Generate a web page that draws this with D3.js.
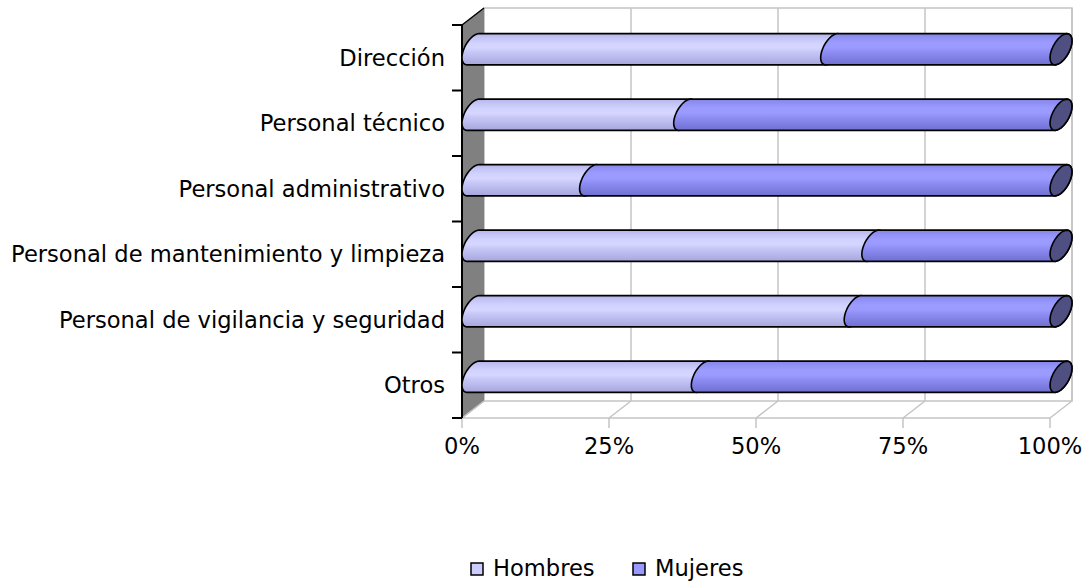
<!DOCTYPE html>
<html>
<head>
<meta charset="utf-8">
<script src="https://cdn.jsdelivr.net/npm/d3@7"></script>
<style>
  html, body { margin: 0; padding: 0; background: #fff; }
  svg { display: block; }
  text { font-family: "DejaVu Sans", Verdana, sans-serif; fill: #000; }
</style>
</head>
<body>
<script>
// Share of men and women per staff category (percent)
const categories = [
  "Dirección",
  "Personal técnico",
  "Personal administrativo",
  "Personal de mantenimiento y limpieza",
  "Personal de vigilancia y seguridad",
  "Otros"
];
const hombres = [61, 36, 20, 68, 65, 39];
const mujeres = [39, 64, 80, 32, 35, 61];
const seriesNames = ["Hombres", "Mujeres"];
const tickValues = [0, 25, 50, 75, 100];
const tickLabels = ["0%", "25%", "50%", "75%", "100%"];

const W = 1088, H = 581;
const svg = d3.select("body").append("svg").attr("width", W).attr("height", H);

// front plane of the 3D box and its depth offset
const x = d3.scaleLinear().domain([0, 100]).range([462, 1050]);
const y = d3.scaleBand().domain(categories).range([25, 418]);
const depthX = 22, depthY = 17;
const bw = y.bandwidth();
const fontSize = 22.6;

const defs = svg.append("defs");
function grad(id, stops) {
  const g = defs.append("linearGradient").attr("id", id)
    .attr("x1", 0).attr("y1", 0).attr("x2", 0).attr("y2", 1);
  stops.forEach(s => g.append("stop").attr("offset", s[0]).attr("stop-color", s[1]));
}
grad("gH", [[0, "#b4b4ea"], [0.12, "#c2c2f4"], [0.3, "#d2d2ff"], [0.45, "#d6d6ff"], [0.6, "#c6c6f6"], [0.8, "#b6b6ea"], [1, "#a6a6dc"]]);
grad("gM", [[0, "#8484e6"], [0.12, "#9090f4"], [0.3, "#9c9cff"], [0.45, "#9a9aff"], [0.6, "#8c8cf2"], [0.8, "#7e7ee2"], [1, "#7070d2"]]);
const fills = ["url(#gH)", "url(#gM)"];
const legendFills = ["#ccccff", "#9999ff"];
const capFill = "#4f4f82";
const gridColor = "#c4c4c4";

const xMin = x.range()[0], xMax = x.range()[1];
const yTop = y.range()[0], yBot = y.range()[1];

// back wall
svg.append("rect")
  .attr("x", xMin + depthX).attr("y", yTop - depthY)
  .attr("width", xMax - xMin).attr("height", yBot - yTop)
  .attr("fill", "#fff").attr("stroke", gridColor).attr("stroke-width", 1.5);

// vertical gridlines on the back wall and their floor continuation
tickValues.forEach(v => {
  const fx = x(v);
  svg.append("line")
    .attr("x1", fx + depthX).attr("x2", fx + depthX)
    .attr("y1", yTop - depthY).attr("y2", yBot - depthY)
    .attr("stroke", gridColor).attr("stroke-width", 1.5);
  svg.append("line")
    .attr("x1", fx).attr("y1", yBot)
    .attr("x2", fx + depthX).attr("y2", yBot - depthY)
    .attr("stroke", gridColor).attr("stroke-width", 1.5);
  svg.append("line")
    .attr("x1", fx).attr("x2", fx)
    .attr("y1", yBot).attr("y2", yBot + 10)
    .attr("stroke", gridColor).attr("stroke-width", 1.5);
});
// floor front edge
svg.append("line")
  .attr("x1", xMin).attr("x2", xMax).attr("y1", yBot).attr("y2", yBot)
  .attr("stroke", gridColor).attr("stroke-width", 1.5);

// side wall
svg.append("path")
  .attr("d", `M${xMin},${yTop} L${xMin + depthX},${yTop - depthY} L${xMin + depthX},${yBot - depthY} L${xMin},${yBot} Z`)
  .attr("fill", "#808080");
svg.append("line")
  .attr("x1", xMin).attr("y1", yBot)
  .attr("x2", xMin + depthX).attr("y2", yBot - depthY)
  .attr("stroke", gridColor).attr("stroke-width", 1.5);
svg.append("line")
  .attr("x1", xMin).attr("y1", yTop)
  .attr("x2", xMin + depthX).attr("y2", yTop - depthY)
  .attr("stroke", "#000").attr("stroke-width", 1.5);

// category axis line with ticks at band edges
svg.append("line")
  .attr("x1", xMin).attr("x2", xMin).attr("y1", yTop).attr("y2", yBot)
  .attr("stroke", "#000").attr("stroke-width", 2);
const edges = categories.map(c => y(c)).concat([yBot]);
svg.selectAll(".ytick").data(edges).enter().append("line")
  .attr("x1", xMin - 10).attr("x2", xMin)
  .attr("y1", d => d).attr("y2", d => d)
  .attr("stroke", "#000").attr("stroke-width", 2);

// category labels
svg.selectAll(".ylab").data(categories).enter().append("text")
  .attr("x", 445).attr("y", d => y(d) + bw / 2 + 8)
  .attr("text-anchor", "end").attr("font-size", fontSize)
  .text(d => d);

// percentage labels
svg.selectAll(".xlab").data(tickValues).enter().append("text")
  .attr("x", d => x(d)).attr("y", 454)
  .attr("text-anchor", "middle").attr("font-size", fontSize)
  .text((d, i) => tickLabels[i]);

// cylinders: cross-section ellipse in the oblique projection
const ra = depthX / 2, rc = depthY / 2, rb = bw * 0.2;
const tSil = Math.atan2(-rc, rb); // bottom silhouette angle
function ept(cx, cy, t) {
  return [cx + ra * Math.sin(t), cy + rb * Math.cos(t) - rc * Math.sin(t)];
}
function arc(cx, cy, t0, t1) {
  const n = 24, pts = [];
  for (let i = 0; i <= n; i++) pts.push(ept(cx, cy, t0 + (t1 - t0) * i / n));
  return pts;
}
const line = d3.line();

categories.forEach((c, i) => {
  const cy = y(c) + bw / 2 - depthY / 2;
  const vals = [hombres[i], mujeres[i]];
  let start = 0;
  const g = svg.append("g");
  vals.forEach((v, k) => {
    const c0 = x(start) + depthX / 2;
    const c1 = x(start + v) + depthX / 2;
    const left = arc(c0, cy, tSil + Math.PI, tSil + 2 * Math.PI);
    const right = arc(c1, cy, tSil, tSil + Math.PI);
    g.append("path")
      .attr("d", line(left.concat(right)) + "Z")
      .attr("fill", fills[k]).attr("stroke", "#000").attr("stroke-width", 1.6)
      .attr("stroke-linejoin", "round");
    start += v;
  });
  // visible end cap
  const ce = x(start) + depthX / 2;
  g.append("path")
    .attr("d", line(arc(ce, cy, 0, 2 * Math.PI)) + "Z")
    .attr("fill", capFill).attr("stroke", "#000").attr("stroke-width", 1.6);
});

// legend
const legX = [471, 633];
seriesNames.forEach((s, k) => {
  svg.append("rect")
    .attr("x", legX[k]).attr("y", 563).attr("width", 12).attr("height", 12)
    .attr("fill", legendFills[k]).attr("stroke", "#000").attr("stroke-width", 1.5);
  svg.append("text")
    .attr("x", legX[k] + 22).attr("y", 576)
    .attr("font-size", fontSize).text(s);
});
</script>
</body>
</html>
